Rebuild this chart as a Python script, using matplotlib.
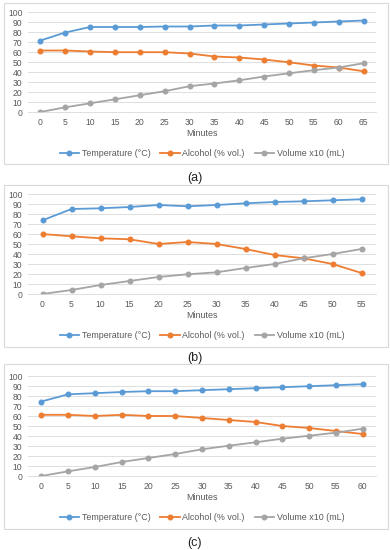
import matplotlib.pyplot as plt
from matplotlib.patches import Rectangle

plt.rcParams['font.family'] = ['Liberation Sans', 'DejaVu Sans']

# panel (a)
min_a = [0, 5, 10, 15, 20, 25, 30, 35, 40, 45, 50, 55, 60, 65]
temp_a = [71.5, 79.5, 85, 85, 85, 85.5, 85.5, 86.5, 86.5, 87.5, 88.5, 89.5, 90.5, 91.5]
alc_a = [61.5, 61.5, 60.5, 59.8, 59.8, 59.8, 58.5, 55.5, 54.5, 52.5, 49.7, 46.5, 44.5, 40.7]
vol_a = [0, 4.7, 8.7, 12.7, 16.8, 20.8, 25.8, 28.5, 31.7, 35.5, 38.7, 41.8, 44.5, 48.8]

# panel (b)
min_b = [0, 5, 10, 15, 20, 25, 30, 35, 40, 45, 50, 55]
temp_b = [73.7, 85, 85.7, 87, 89, 87.7, 89, 90.7, 92, 92.7, 93.7, 94.7]
alc_b = [60, 57.7, 55.7, 54.7, 50, 52, 50, 45, 39, 35.7, 30, 21]
vol_b = [0, 4, 9, 13, 17, 19.7, 21.7, 26, 30, 35.7, 40, 45]

# panel (c)
min_c = [0, 5, 10, 15, 20, 25, 30, 35, 40, 45, 50, 55, 60]
temp_c = [74.5, 81.7, 82.8, 84, 84.8, 84.8, 85.8, 86.8, 87.8, 88.8, 89.8, 90.8, 91.8]
alc_c = [61.2, 61.2, 60, 61.2, 60, 60, 58, 56, 54, 50, 48, 45, 42]
vol_c = [0, 4.7, 9, 14, 18, 22, 26.7, 30.3, 33.7, 37.3, 40.3, 43.3, 47.3]

labels = ['Temperature (°C)', 'Alcohol (% vol.)', 'Volume x10 (mL)']
colors = ['#5B9BD5', '#ED7D31', '#A5A5A5']
captions = ['(a)', '(b)', '(c)']

W, H = 390, 550
fig = plt.figure(figsize=(W / 100, H / 100), dpi=100)

# pixel layout: box top, box bottom, plot top (y=100), plot bottom (y=0), caption y
layout = [
    (3, 164, 12, 112, 178),
    (185, 347, 194, 294, 358),
    (364, 529, 376, 476, 543),
]
panels = [
    (min_a, temp_a, alc_a, vol_a),
    (min_b, temp_b, alc_b, vol_b),
    (min_c, temp_c, alc_c, vol_c),
]

for (btop, bbot, ptop, pbot, capy), (mins, t, a, v), cap in zip(layout, panels, captions):
    fig.patches.append(Rectangle((4 / W, 1 - bbot / H), 383.5 / W, (bbot - btop) / H,
                                 transform=fig.transFigure, fill=False,
                                 edgecolor='#D9D9D9', linewidth=0.8))
    ax = fig.add_axes([28 / W, 1 - pbot / H, 348 / W, (pbot - ptop) / H])
    n = len(mins)
    xs = list(range(n))
    for ys, c, lab in zip((t, a, v), colors, labels):
        ax.plot(xs, ys, color=c, marker='o', markersize=3.3, linewidth=1.3, label=lab)
    ax.set_xlim(-0.5, n - 0.5)
    ax.set_ylim(0, 100)
    ax.set_xticks(xs)
    ax.set_xticklabels([str(m) for m in mins])
    ax.set_yticks(range(0, 101, 10))
    ax.grid(axis='y', color='#D9D9D9', linewidth=0.6)
    ax.set_axisbelow(True)
    for s in ax.spines.values():
        s.set_visible(False)
    ax.spines['bottom'].set_visible(True)
    ax.spines['bottom'].set_color('#D9D9D9')
    ax.spines['bottom'].set_linewidth(0.6)
    ax.tick_params(length=0, labelsize=6.2, colors='#595959', pad=4)
    ax.set_xlabel('Minutes', fontsize=6.4, color='#595959', labelpad=2)
    ax.legend(loc='center', bbox_to_anchor=(0.5, -42 / (pbot - ptop)),
              ncol=3, frameon=False, fontsize=6.4, labelcolor='#595959',
              handlelength=2.2, columnspacing=1.1, handletextpad=0.3)
    fig.text(0.5, 1 - capy / H, cap, ha='center', va='center', fontsize=9, color='#222222')

fig.savefig('out.png', dpi=100, facecolor='white')
